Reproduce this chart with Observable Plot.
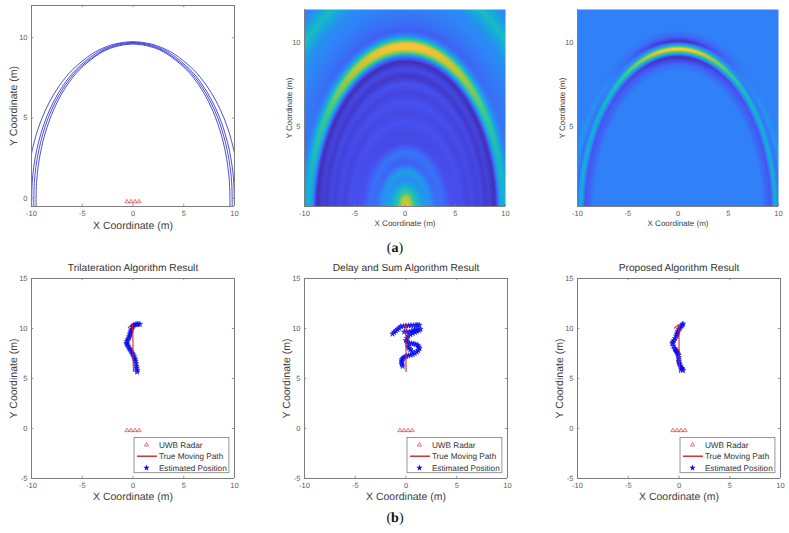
<!DOCTYPE html>
<html><head><meta charset="utf-8">
<script src="https://cdn.jsdelivr.net/npm/d3@7"></script>
<script src="https://cdn.jsdelivr.net/npm/@observablehq/plot@0.6"></script>
<style>
html,body{margin:0;padding:0;background:#fff}
#page{position:relative;width:789px;height:533px;overflow:hidden;font-family:"Liberation Sans",Arial,sans-serif;text-rendering:geometricPrecision}
#page svg{position:absolute;overflow:visible;background:transparent}
#page svg image{filter:blur(0.45px)}
#page svg g[aria-label="dot"]{filter:blur(0.3px)}
.cap{position:absolute;width:40px;text-align:center;font:14px "Liberation Serif",serif;color:#111}
</style></head><body><div id="page"></div>
<script>
// ---------- Ticks and labels ----------
const xTicks = [-10,-5,0,5,10];
const yTicksTop = [0,5,10];
const yTicksTopHeat = [5,10];
const yTicksBottom = [-5,0,5,10,15];
const xLabel = "X Coordinate (m)";
const yLabel = "Y Coordinate (m)";
const bottomTitles = ["Trilateration Algorithm Result","Delay and Sum Algorithm Result","Proposed Algorithm Result"];
const legendLabels = ["UWB Radar","True Moving Path","Estimated Position"];
const radarX = [-0.6,-0.2,0.2,0.6];
const radarY = [-0.2,-0.2,-0.2,-0.2];

// ---------- Panel 1: four delay ellipses ----------
const arcAx = [-10,-9.93,-9.52,-8.96,-8.23,-7.27,-5.97,-4.02,-2.77,-1.82,0,1.82,2.77,4.02,5.97,7.27,8.23,8.96,9.52,9.93,10];
const arcAy = [2.8,3,4,5,6,7,8,9,9.4,9.6,9.75,9.6,9.4,9,8,7,6,5,4,3,2.8];
const arcBx = [-9.98,-9.98,-9.93,-9.77,-9.49,-9.09,-8.55,-7.84,-6.91,-5.64,-3.72,-2.46,-1.43,0,1.43,2.46,3.72,5.64,6.91,7.84,8.55,9.09,9.49,9.77,9.93,9.98,9.98];
const arcBy = [-0.5,0,1,2,3,4,5,6,7,8,9,9.4,9.6,9.7,9.6,9.4,9,8,7,6,5,4,3,2,1,0,-0.5];
const arcCx = [-9.77,-9.77,-9.72,-9.56,-9.28,-8.89,-8.36,-7.65,-6.72,-5.46,-3.47,-2.21,-0.99,0,0.99,2.21,3.47,5.46,6.72,7.65,8.36,8.89,9.28,9.56,9.72,9.77,9.77];
const arcCy = [-0.5,0,1,2,3,4,5,6,7,8,9,9.4,9.6,9.65,9.6,9.4,9,8,7,6,5,4,3,2,1,0,-0.5];
const arcDx = [-9.55,-9.55,-9.5,-9.34,-9.07,-8.68,-8.15,-7.46,-6.54,-5.28,-3.32,-1.94,0,1.94,3.32,5.28,6.54,7.46,8.15,8.68,9.07,9.34,9.5,9.55,9.55];
const arcDy = [-0.5,0,1,2,3,4,5,6,7,8,9,9.4,9.6,9.4,9,8,7,6,5,4,3,2,1,0,-0.5];

// ---------- Heat maps: levels read along the centre column and the base row ----------
const parula = ["#3e26a8","#4752f4","#2d87f7","#12b1d6","#37c897","#abc739","#fec338","#f9fb14"];
const heatA_apexY = [0.05,0.3,0.8,1.35,1.9,2.3,2.9,3.5,4.0,4.6,5.27,5.85,6.45,7.05,7.55,8.03,8.45,8.9,9.2,9.4,9.65,9.95,10.2,10.45,10.75,11.2,12,13,14,15,16,17];
const heatA_baseX = [0.1,0.35,0.7,1.3,1.9,2.4,3.0,3.7,4.4,5.0,5.6,6.1,6.6,7.1,7.5,7.9,8.35,8.85,9.05,9.25,9.5,9.8,10.05,10.35,10.75,11.4,12.3,13.4,14.4,15.4,16.4,17.4];
const heatA_apexV = [0.95,0.9,0.75,0.48,0.28,0.38,0.17,0.25,0.12,0.11,0.14,0.11,0.14,0.1,0.14,0.06,0.12,0.03,0.25,0.6,0.85,0.85,0.55,0.28,0.17,0.22,0.26,0.3,0.48,0.3,0.22,0.22];
const heatA_baseV = [0.95,0.9,0.62,0.45,0.35,0.32,0.22,0.22,0.14,0.13,0.13,0.1,0.12,0.09,0.11,0.07,0.09,0.03,0.12,0.3,0.42,0.44,0.38,0.28,0.25,0.25,0.28,0.34,0.48,0.3,0.25,0.25];
const heatB_apexY = [0.05,8.3,8.7,9.0,9.2,9.4,9.65,9.85,10.1,10.4,10.8,17];
const heatB_baseX = [0.05,8.4,8.8,9.05,9.25,9.45,9.7,10.05,10.55,10.95,11.3,17.4];
const heatB_apexV = [0.27,0.27,0.22,0.1,0.03,0.45,0.95,0.45,0.03,0.2,0.27,0.27];
const heatB_baseV = [0.27,0.27,0.2,0.18,0.14,0.3,0.45,0.22,0.34,0.27,0.27,0.27];

// ---------- Bottom row paths ----------
const triRedX = [0.05,0.02,0,0,-0.02,-0.05,-0.06,-0.45];
const triRedY = [5.7,6.5,7.5,8.5,9.5,10.2,10.45,10.1];
const triEstX = [0.41,0.4,0.36,0.34,0.3,0.25,0.2,0.14,0.08,0,-0.08,-0.18,-0.28,-0.38,-0.47,-0.56,-0.64,-0.6,-0.52,-0.41,-0.36,-0.3,-0.25,-0.22,-0.15,-0.08,0,0.08,0.25,0.38,0.5,0.67];
const triEstY = [5.66,5.85,6.05,6.23,6.48,6.73,6.9,7.05,7.23,7.4,7.55,7.73,7.9,8.05,8.23,8.38,8.5,8.7,8.88,9.06,9.22,9.4,9.56,9.72,9.88,10.13,10.25,10.35,10.4,10.42,10.43,10.43];
const dasRedX = [0,0,0,0,0,0,-0.15];
const dasRedY = [5.7,6.5,7.5,8.5,9.5,10.45,10.2];
const dasEstX = [-0.33,-0.4,-0.43,-0.42,-0.4,-0.3,-0.17,0.02,0.23,0.45,0.66,0.86,1.06,1.2,1.32,1.25,1.15,0.95,0.76,0.55,0.33,0.17,0.3,0.43,0.6,0.1,0,0.1,0.23,0.45,0.66,0.88,1.09,1.27,1.42,1.0,0.82,0.58,0.33,0.08,-0.17,1.32,1.15,0.99,0.75,0.5,0.25,0,-0.25,-0.5,-0.68,-0.83,-1.0,-1.16,-1.32];
const dasEstY = [6.23,6.4,6.57,6.75,6.9,7.02,7.13,7.22,7.3,7.35,7.4,7.52,7.66,7.82,8.0,8.17,8.33,8.4,8.47,8.5,8.53,8.23,8.05,7.9,7.7,8.65,8.8,9.02,9.23,9.4,9.53,9.63,9.73,9.83,9.93,9.9,9.83,9.75,9.66,9.66,9.66,10.33,10.33,10.33,10.32,10.3,10.28,10.26,10.23,10.2,10.05,9.9,9.77,9.63,9.46];
const proRedX = [0.05,0.03,0.02,0,0,-0.02,0,-0.45];
const proRedY = [5.6,6.5,7.5,8.5,9.5,10.2,10.4,10.05];
const proEstX = [0.39,0.33,0.28,0.23,0.15,0.07,0.02,-0.03,-0.03,-0.03,-0.06,-0.1,-0.16,-0.22,-0.28,-0.36,-0.43,-0.55,-0.66,-0.6,-0.49,-0.38,-0.26,-0.2,-0.16,-0.1,-0.03,0.1,0.23,0.33,0.39];
const proEstY = [5.8,5.93,6.0,6.06,6.22,6.4,6.55,6.73,6.93,7.13,7.35,7.45,7.56,7.67,7.78,7.89,8.0,8.25,8.5,8.65,8.8,9.02,9.23,9.4,9.56,9.73,9.9,10.05,10.23,10.35,10.46];

// ---------- Layout constants ----------
const FONT = "Liberation Sans";
const page = document.getElementById("page");
const zip = (xs,ys)=>xs.map((x,i)=>({x,y:ys[i]}));
const fmt = d=>String(d);
const GRAY = "#7d7d7d", TICK="#5a5a5a", LABEL="#3c3c3c";

function place(svg,left,top){svg.style.left=left+"px";svg.style.top=top+"px";page.appendChild(svg);}

function axesMarks({yTicks,tickFont,labelFont,xlDy,ylDx,title}){
  return [
    Plot.axisX(xTicks,{anchor:"bottom",tickSize:0,tickPadding:4,tickFormat:fmt,fontSize:tickFont,fill:TICK,label:null}),
    Plot.axisY(yTicks,{anchor:"left",tickSize:0,tickPadding:4,tickFormat:fmt,fontSize:tickFont,fill:TICK,label:null}),
    Plot.text([xLabel],{frameAnchor:"bottom",dy:xlDy,fontSize:labelFont,fill:LABEL,textAnchor:"middle",lineAnchor:"middle"}),
    Plot.text([yLabel],{frameAnchor:"left",dx:ylDx,rotate:-90,fontSize:labelFont,fill:LABEL,textAnchor:"middle",lineAnchor:"middle"}),
    title?Plot.text([title],{frameAnchor:"top",dy:-10.5,fontSize:10.2,fill:"#333",textAnchor:"middle",lineAnchor:"middle"}):null
  ];
}
function frameMarks(yTicks,yDomain,full){
  const tx=(yDomain[1]-yDomain[0])*2.2/200, ty=20*2.2/203;
  const m=[
    Plot.ruleY([yDomain[0]],{stroke:GRAY,strokeWidth:1}),
    Plot.ruleX([-10],{stroke:GRAY,strokeWidth:1}),
    Plot.ruleX(xTicks,{y1:yDomain[0],y2:yDomain[0]+tx,stroke:GRAY,strokeWidth:0.8}),
    Plot.ruleY(yTicks,{x1:-10,x2:-10+ty,stroke:GRAY,strokeWidth:0.8}),
  ];
  if(full){m.push(
    Plot.ruleY([yDomain[1]],{stroke:GRAY,strokeWidth:1}),
    Plot.ruleX([10],{stroke:GRAY,strokeWidth:1}),
    Plot.ruleX(xTicks,{y1:yDomain[1],y2:yDomain[1]-tx,stroke:GRAY,strokeWidth:0.8}),
    Plot.ruleY(yTicks,{x1:10,x2:10-ty,stroke:GRAY,strokeWidth:0.8}));}
  return m;
}

// ---- Panel 1
const arcs=[zip(arcAx,arcAy),zip(arcBx,arcBy),zip(arcCx,arcCy),zip(arcDx,arcDy)];
const radars=zip(radarX,radarY);
place(Plot.plot({
  width:260,height:245,marginLeft:31,marginRight:26,marginTop:5,marginBottom:39,
  style:{fontFamily:FONT,background:"transparent"},
  x:{domain:[-10,10],axis:null},y:{domain:[-0.5,12],axis:null},
  marks:[
    ...arcs.map(a=>Plot.line(a,{x:"x",y:"y",curve:"catmull-rom",stroke:"#2222cc",strokeWidth:0.8,clip:true})),
    Plot.dot(radars,{x:"x",y:"y",symbol:"triangle",r:1.5,stroke:"#d8202a",strokeWidth:0.6,fill:"none"}),
    ...frameMarks(yTicksTop,[-0.5,12],true),
    ...axesMarks({yTicks:yTicksTop,tickFont:7.5,labelFont:10.5,xlDy:19,ylDx:-18})
  ]}),0,0);

// ---- Heat maps
function heatGrid(apexY,baseX,apexV,baseV,sharp,cx,cols,rows){
  const vals=new Float64Array(cols*rows);
  const n=apexY.length;
  for(let r=0;r<rows;r++){
    const y=12-(r+0.5)/rows*(12-0.25);
    for(let c=0;c<cols;c++){
      const x=-10+(c+0.5)/cols*20-cx;
      let i=0,prev=0,F=0;
      for(;i<n;i++){F=Math.hypot(x/baseX[i],y/apexY[i]);if(F<=1)break;prev=F;}
      let v;
      if(i===0){v=apexV[0];}
      else if(i>=n){v=apexV[n-1];}
      else{
        const f=(prev-1)/(prev-F);
        const b=apexY[i-1]+f*(apexY[i]-apexY[i-1]);
        const s=Math.pow(Math.min(1,y/b),sharp);
        const va=apexV[i-1]+f*(apexV[i]-apexV[i-1]);
        const vb=baseV[i-1]+f*(baseV[i]-baseV[i-1]);
        v=vb+(va-vb)*s;
      }
      vals[r*cols+c]=v;
    }
  }
  return vals;
}
function heatPanel(grid,cols,rows,left){
  const svg=Plot.plot({
    width:260,height:245,marginLeft:left.ml,marginRight:260-left.ml-201,marginTop:9,marginBottom:39,
    style:{fontFamily:FONT,background:"transparent"},
    x:{domain:[-10,10],axis:null},y:{domain:[0.25,12],axis:null},
    color:{type:"linear",domain:parula.map((_,i)=>i/(parula.length-1)),range:parula},
    marks:[
      Plot.raster(grid,{width:cols,height:rows,x1:-10,x2:10,y1:12,y2:0.25,imageRendering:"auto"}),
      ...frameMarks(yTicksTopHeat,[0.25,12],false),
      ...axesMarks({yTicks:yTicksTopHeat,tickFont:7.5,labelFont:8,xlDy:17,ylDx:-15})
    ]});
  place(svg,left.x,0);
}
heatPanel(heatGrid(heatA_apexY,heatA_baseX,heatA_apexV,heatA_baseV,2,0.1,201,197),201,197,{x:260,ml:44});
heatPanel(heatGrid(heatB_apexY,heatB_baseX,heatB_apexV,heatB_baseV,6,0,201,197),201,197,{x:530,ml:47});

// ---- Bottom row
function bottomPanel(left,ml,title,redX,redY,estX,estY){
  const legendRows=[-1.64,-2.77,-3.94];
  place(Plot.plot({
    width:260,height:262,marginLeft:ml,marginRight:260-ml-203,marginTop:8,marginBottom:54,
    style:{fontFamily:FONT,background:"transparent"},
    x:{domain:[-10,10],axis:null},y:{domain:[-5,15],axis:null},
    marks:[
      Plot.dot(zip(estX,estY),{x:"x",y:"y",symbol:"star",r:1.7,fill:"#0a0aee",stroke:"#0a0aee",strokeWidth:0.8,opacity:0.8}),
      Plot.line(zip(redX,redY),{x:"x",y:"y",stroke:"#e0141e",strokeWidth:1.2,strokeOpacity:0.85}),
      Plot.dot(radars,{x:"x",y:"y",symbol:"triangle",r:1.5,stroke:"#d8202a",strokeWidth:0.6,fill:"none"}),
      ...frameMarks(yTicksBottom,[-5,15],true),
      Plot.rect([{}],{x1:0.15,x2:9.5,y1:-4.47,y2:-0.95,fill:"#fff",stroke:GRAY,strokeWidth:0.8}),
      Plot.dot([{x:1.33,y:legendRows[0]}],{x:"x",y:"y",symbol:"triangle",r:1.5,stroke:"#d8202a",strokeWidth:0.6,fill:"none"}),
      Plot.ruleY([legendRows[1]],{x1:0.45,x2:2.41,stroke:"#cf1020",strokeWidth:1.3}),
      Plot.dot([{x:1.33,y:legendRows[2]}],{x:"x",y:"y",symbol:"star",r:2,fill:"#0a0aee"}),
      Plot.text(legendLabels.map((t,i)=>({t,y:legendRows[i]})),{x:()=>2.55,y:"y",text:"t",fontSize:8.2,fill:"#333",textAnchor:"start"}),
      ...axesMarks({yTicks:yTicksBottom,tickFont:7.5,labelFont:10.5,xlDy:18.5,ylDx:-18,title})
    ]}),left,270);
}
bottomPanel(0,31,bottomTitles[0],triRedX,triRedY,triEstX,triEstY);
bottomPanel(260,44,bottomTitles[1],dasRedX,dasRedY,dasEstX,dasEstY);
bottomPanel(530,47,bottomTitles[2],proRedX,proRedY,proEstX,proEstY);

// ---- Captions
for(const [t,top] of [["a",241],["b",511]]){
  const d=document.createElement("div");d.className="cap";
  d.style.left="375px";d.style.top=top+"px";
  d.innerHTML="(<b>"+t+"</b>)";page.appendChild(d);
}
</script></body></html>
